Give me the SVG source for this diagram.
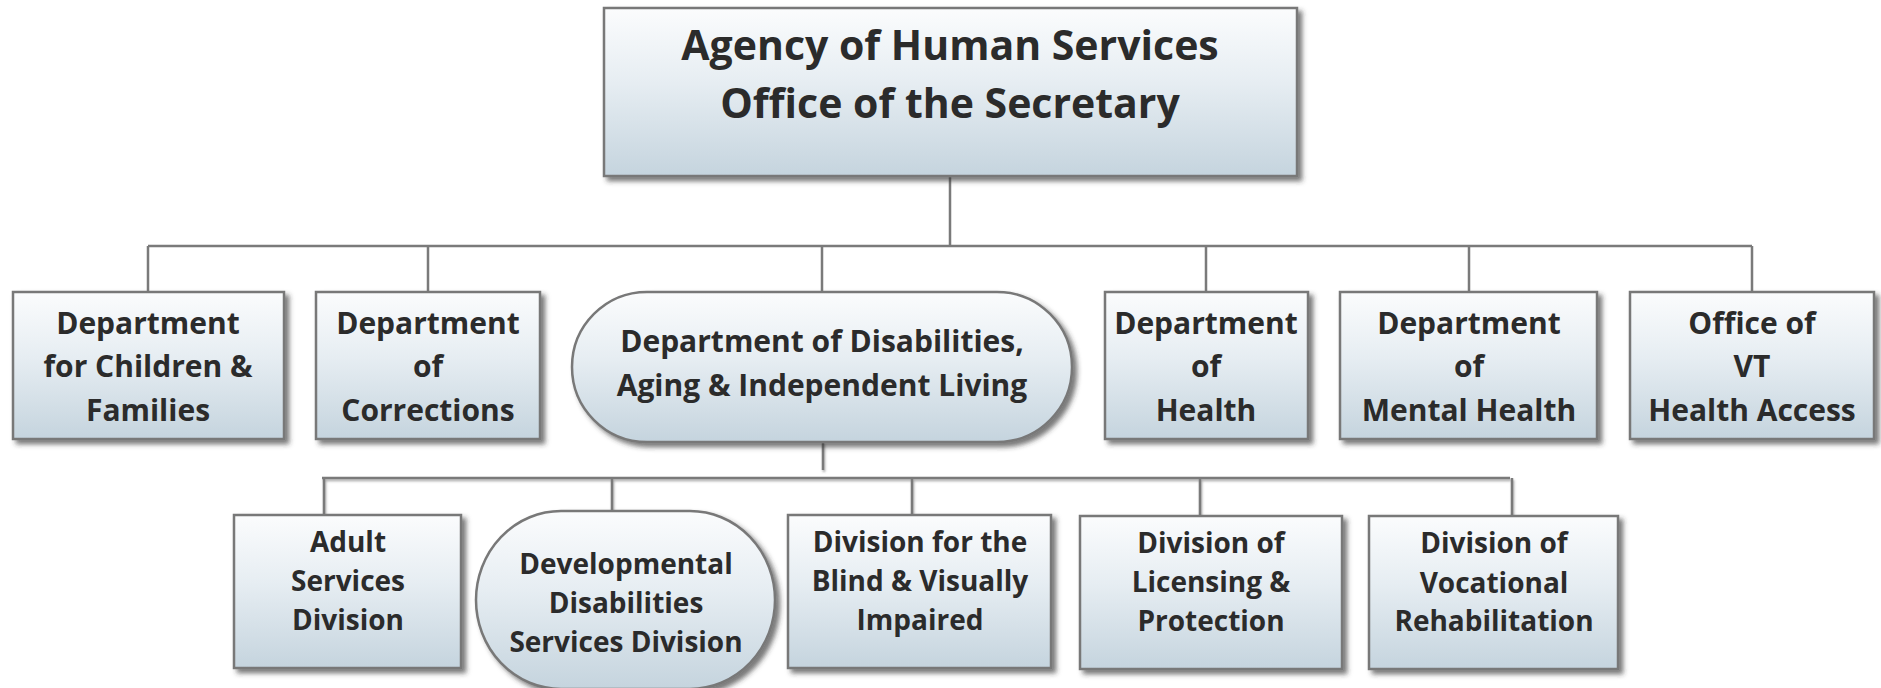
<svg xmlns="http://www.w3.org/2000/svg" width="1881" height="688" viewBox="0 0 1881 688">
<style>
.box{fill:url(#g);stroke:#787878;stroke-width:2.5;filter:url(#sh)}
.t{font-family:"Open Sans","Noto Sans",sans-serif;font-weight:700;fill:#2b2b2b;text-anchor:middle}
.top{font-size:41px}
.l2{font-size:30px}
.l3{font-size:28px}
.c{stroke:#7a7a7a;stroke-width:2.5;fill:none}
</style>
<defs>
<linearGradient id="g" x1="0" y1="0" x2="0" y2="1">
<stop offset="0" stop-color="#fbfcfd"/>
<stop offset="0.45" stop-color="#e6edf2"/>
<stop offset="1" stop-color="#c5d4de"/>
</linearGradient>
<filter id="sh" x="-5%" y="-5%" width="115%" height="125%">
<feDropShadow dx="4" dy="4" stdDeviation="2.5" flood-color="#333" flood-opacity="0.65"/>
</filter>
<filter id="lsh" x="-1%" y="-100%" width="102%" height="400%">
<feDropShadow dx="1" dy="2" stdDeviation="1" flood-color="#555" flood-opacity="0.5"/>
</filter>
</defs>
<g id="connectors">
<path class="c" d="M950 176V246M148 246H1752M148 246V292M428 246V292M822 246V292M1206 246V292M1469 246V292M1752 246V292"/>
<path class="c" filter="url(#lsh)" d="M823 442V470M322 478H1510M324 478V515M612 478V511M912 478V515M1200 478V516M1512 478V516"/>
</g>
<g id="n-top">
<rect class="box" x="604" y="8" width="693" height="168"/>
<text class="t top" x="950" y="60">Agency of Human Services</text>
<text class="t top" x="950" y="118">Office of the Secretary</text>
</g>
<g id="n-dcf">
<rect class="box" x="13" y="292" width="271" height="147"/>
<text class="t l2" x="148" y="334">Department</text>
<text class="t l2" x="148" y="377">for Children &amp;</text>
<text class="t l2" x="148" y="421">Families</text>
</g>
<g id="n-doc">
<rect class="box" x="316" y="292" width="224" height="147"/>
<text class="t l2" x="428" y="334">Department</text>
<text class="t l2" x="428" y="377">of</text>
<text class="t l2" x="428" y="421">Corrections</text>
</g>
<g id="n-dail">
<rect class="box" x="572" y="292" width="500" height="150" rx="75" ry="75"/>
<text class="t l2" x="822" y="352">Department of Disabilities,</text>
<text class="t l2" x="822" y="396">Aging &amp; Independent Living</text>
</g>
<g id="n-doh">
<rect class="box" x="1105" y="292" width="203" height="147"/>
<text class="t l2" x="1206" y="334">Department</text>
<text class="t l2" x="1206" y="377">of</text>
<text class="t l2" x="1206" y="421">Health</text>
</g>
<g id="n-dmh">
<rect class="box" x="1340" y="292" width="257" height="147"/>
<text class="t l2" x="1469" y="334">Department</text>
<text class="t l2" x="1469" y="377">of</text>
<text class="t l2" x="1469" y="421">Mental Health</text>
</g>
<g id="n-ovha">
<rect class="box" x="1630" y="292" width="244" height="147"/>
<text class="t l2" x="1752" y="334">Office of</text>
<text class="t l2" x="1752" y="377">VT</text>
<text class="t l2" x="1752" y="421">Health Access</text>
</g>
<g id="n-asd">
<rect class="box" x="234" y="515" width="227" height="153"/>
<text class="t l3" x="348" y="552">Adult</text>
<text class="t l3" x="348" y="591">Services</text>
<text class="t l3" x="348" y="630">Division</text>
</g>
<g id="n-ddsd">
<rect class="box" x="476" y="511" width="299" height="178" rx="85" ry="89"/>
<text class="t l3" x="626" y="574">Developmental</text>
<text class="t l3" x="626" y="613">Disabilities</text>
<text class="t l3" x="626" y="652">Services Division</text>
</g>
<g id="n-dbvi">
<rect class="box" x="788" y="515" width="263" height="153"/>
<text class="t l3" x="920" y="552">Division for the</text>
<text class="t l3" x="920" y="591">Blind &amp; Visually</text>
<text class="t l3" x="920" y="630">Impaired</text>
</g>
<g id="n-dlp">
<rect class="box" x="1080" y="516" width="262" height="153"/>
<text class="t l3" x="1211" y="553">Division of</text>
<text class="t l3" x="1211" y="592">Licensing &amp;</text>
<text class="t l3" x="1211" y="631">Protection</text>
</g>
<g id="n-dvr">
<rect class="box" x="1369" y="516" width="249" height="153"/>
<text class="t l3" x="1494" y="553">Division of</text>
<text class="t l3" x="1494" y="593">Vocational</text>
<text class="t l3" x="1494" y="631">Rehabilitation</text>
</g>
</svg>
